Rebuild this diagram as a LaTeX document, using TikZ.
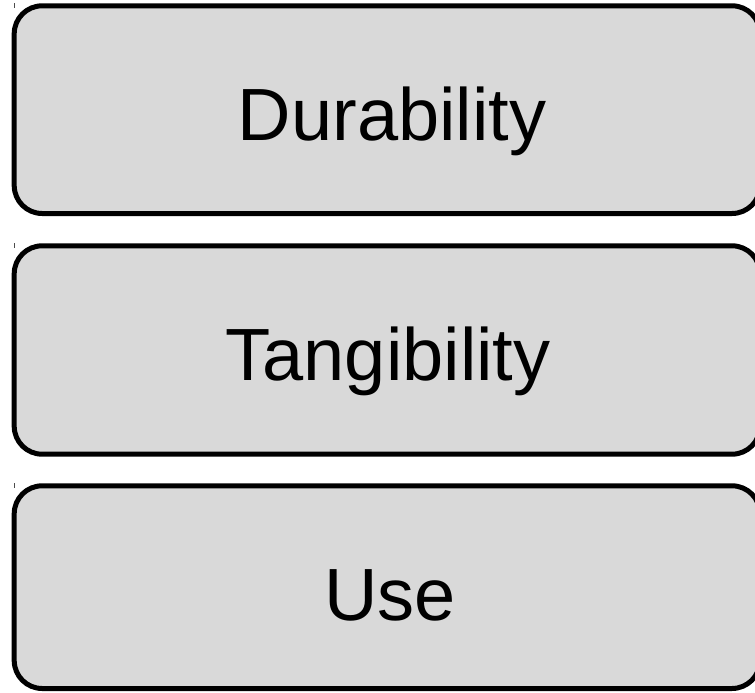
\documentclass[tikz,border=0pt]{standalone}
\usepackage{fontspec}
\setmainfont{Liberation Sans}
\begin{document}
\begin{tikzpicture}[x=1pt,y=-1pt,
  panel/.style={draw=black,line width=5pt,fill=panelgray,rounded corners=28pt},
  label/.style={anchor=base,inner sep=0pt,font=\fontsize{74}{80}\selectfont},
  tick/.style={draw=black!70,line width=1pt}]
\definecolor{panelgray}{RGB}{217,217,217}
\useasboundingbox (0,0) rectangle (755,693);
\begin{scope}
\clip (0,0) rectangle (755,693);
% three stacked panels, running past the right edge
\draw[panel] (14.2,5.8) rectangle (760,213.5);
\draw[panel] (14.2,245.8) rectangle (760,454.2);
\draw[panel] (14.2,485.8) rectangle (760,688.5);
\end{scope}
% small marks above each panel's left corner
\coordinate (t1a) at (14.5,3.3); \coordinate (t1b) at (14.5,8.3);
\coordinate (t2a) at (14.5,243.3); \coordinate (t2b) at (14.5,248.3);
\coordinate (t3a) at (14.5,483.3); \coordinate (t3b) at (14.5,488.3);
\draw[tick] (t1a) -- (t1b);
\draw[tick] (t2a) -- (t2b);
\draw[tick] (t3a) -- (t3b);
% panel captions
\node[label] (dur) at (392,140) {Durability};
\node[label] (tan) at (388,380) {Tangibility};
\node[label] (use) at (390,620) {Use};
\end{tikzpicture}
\end{document}
